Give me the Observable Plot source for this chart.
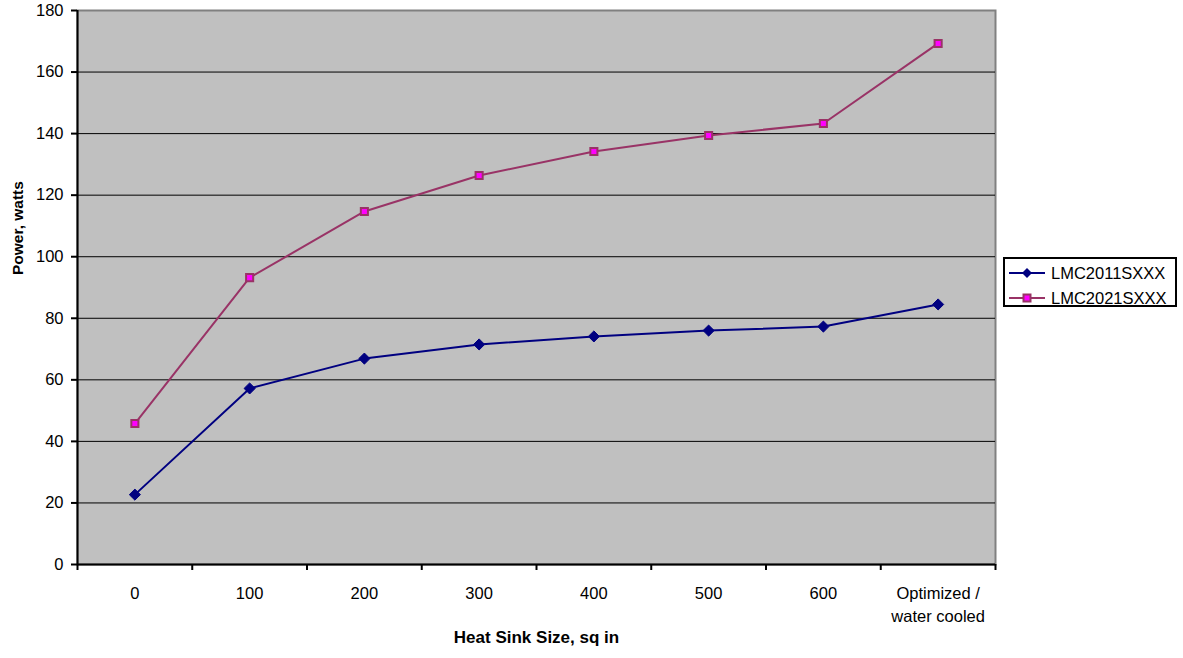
<!DOCTYPE html>
<html><head><meta charset="utf-8">
<script src="https://cdn.jsdelivr.net/npm/d3@7"></script>
<script src="https://cdn.jsdelivr.net/npm/@observablehq/plot@0.6"></script>
<style>
body{margin:0;background:#fff;font-family:"Liberation Sans",Arial,sans-serif;}
#wrap{position:relative;width:1183px;height:658px;}
#legend{position:absolute;left:1003px;top:257px;width:170px;height:46px;border:2px solid #000;background:#fff;font-size:16.5px;color:#000;}
.row{position:absolute;left:4px;height:20px;display:flex;align-items:center;}
.row svg{margin-right:6px;}
</style></head><body><div id="wrap"></div>
<script>
const categories = ["0","100","200","300","400","500","600","Optimized /\nwater cooled"];
const seriesNames = ["LMC2011SXXX","LMC2021SXXX"];
const lmc2011 = [22.7, 57.2, 66.9, 71.5, 74.1, 76.0, 77.3, 84.5];
const lmc2021 = [45.8, 93.2, 114.7, 126.4, 134.2, 139.4, 143.3, 169.3];
const yTicks = [0,20,40,60,80,100,120,140,160,180];
const xTitle = "Heat Sink Size, sq in";
const yTitle = "Power, watts";
const colors = {line2011:"#000080", line2021:"#993366", fill2021:"#ff00ff"};

const d2011 = lmc2011.map((v,i)=>({i, cat:categories[i], value:v, series:seriesNames[0]}));
const d2021 = lmc2021.map((v,i)=>({i, cat:categories[i], value:v, series:seriesNames[1]}));
const xc = d => d.i + 0.5;

const chart = Plot.plot({
  width:1183, height:658, marginLeft:77, marginRight:188, marginTop:10, marginBottom:94,
  style:{fontFamily:"'Liberation Sans', Arial, sans-serif", fontSize:"16.5px", color:"#000", background:"#fff", overflow:"visible"},
  x:{domain:[0, categories.length]},
  y:{domain:[0, 180]},
  marks:[
    Plot.frame({fill:"#c0c0c0", stroke:"#808080", strokeWidth:2}),
    Plot.ruleY(yTicks.filter(d=>d>0 && d<180), {stroke:"#000", strokeWidth:1}),
    Plot.ruleX([0], {stroke:"#000", strokeWidth:2}),
    Plot.ruleY([0], {stroke:"#000", strokeWidth:2}),
    Plot.axisY({ticks:yTicks, tickSize:6, tickPadding:8, strokeWidth:2, fontSize:16.5, label:null}),
    Plot.axisX({ticks:d3.range(0, categories.length+1), tickSize:6, strokeWidth:2, tickFormat:()=>"", label:null}),
    Plot.axisX({ticks:categories.map((c,i)=>i+0.5), tickSize:0, tickPadding:19, fontSize:16.5, lineHeight:1.36, tickFormat:d=>categories[Math.floor(d)], label:null}),
    Plot.line(d2011, {x:xc, y:"value", stroke:colors.line2011, strokeWidth:2}),
    Plot.line(d2021, {x:xc, y:"value", stroke:colors.line2021, strokeWidth:2}),
    Plot.dot(d2011, {x:xc, y:"value", symbol:"diamond2", r:5, fill:colors.line2011, stroke:colors.line2011, strokeWidth:1}),
    Plot.dot(d2021, {x:xc, y:"value", symbol:"square", r:4, fill:colors.fill2021, stroke:colors.line2021, strokeWidth:2}),
    Plot.text([xTitle], {frameAnchor:"bottom", dy:78.6, fontWeight:"bold", fontSize:17, text:d=>d}),
    Plot.text([yTitle], {frameAnchor:"left", dx:-59, dy:-12.5, rotate:-90, fontWeight:"bold", fontSize:15.5, text:d=>d})
  ]
});

const wrap = document.getElementById("wrap");
wrap.appendChild(chart);

const legend = document.createElement("div");
legend.id = "legend";
const rowSpecs = [
  {name:seriesNames[0], top:4, svg:`<svg width="36" height="12"><line x1="0" y1="6" x2="36" y2="6" stroke="${colors.line2011}" stroke-width="2"/><path d="M18,1 L23,6 L18,11 L13,6Z" fill="${colors.line2011}"/></svg>`},
  {name:seriesNames[1], top:29, svg:`<svg width="36" height="12"><line x1="0" y1="6" x2="36" y2="6" stroke="${colors.line2021}" stroke-width="2"/><rect x="14.5" y="2.5" width="7" height="7" fill="${colors.fill2021}" stroke="${colors.line2021}" stroke-width="2"/></svg>`}
];
for (const r of rowSpecs) {
  const row = document.createElement("div");
  row.className = "row";
  row.style.top = r.top + "px";
  row.innerHTML = r.svg + `<span>${r.name}</span>`;
  legend.appendChild(row);
}
wrap.appendChild(legend);
</script>
</body></html>
